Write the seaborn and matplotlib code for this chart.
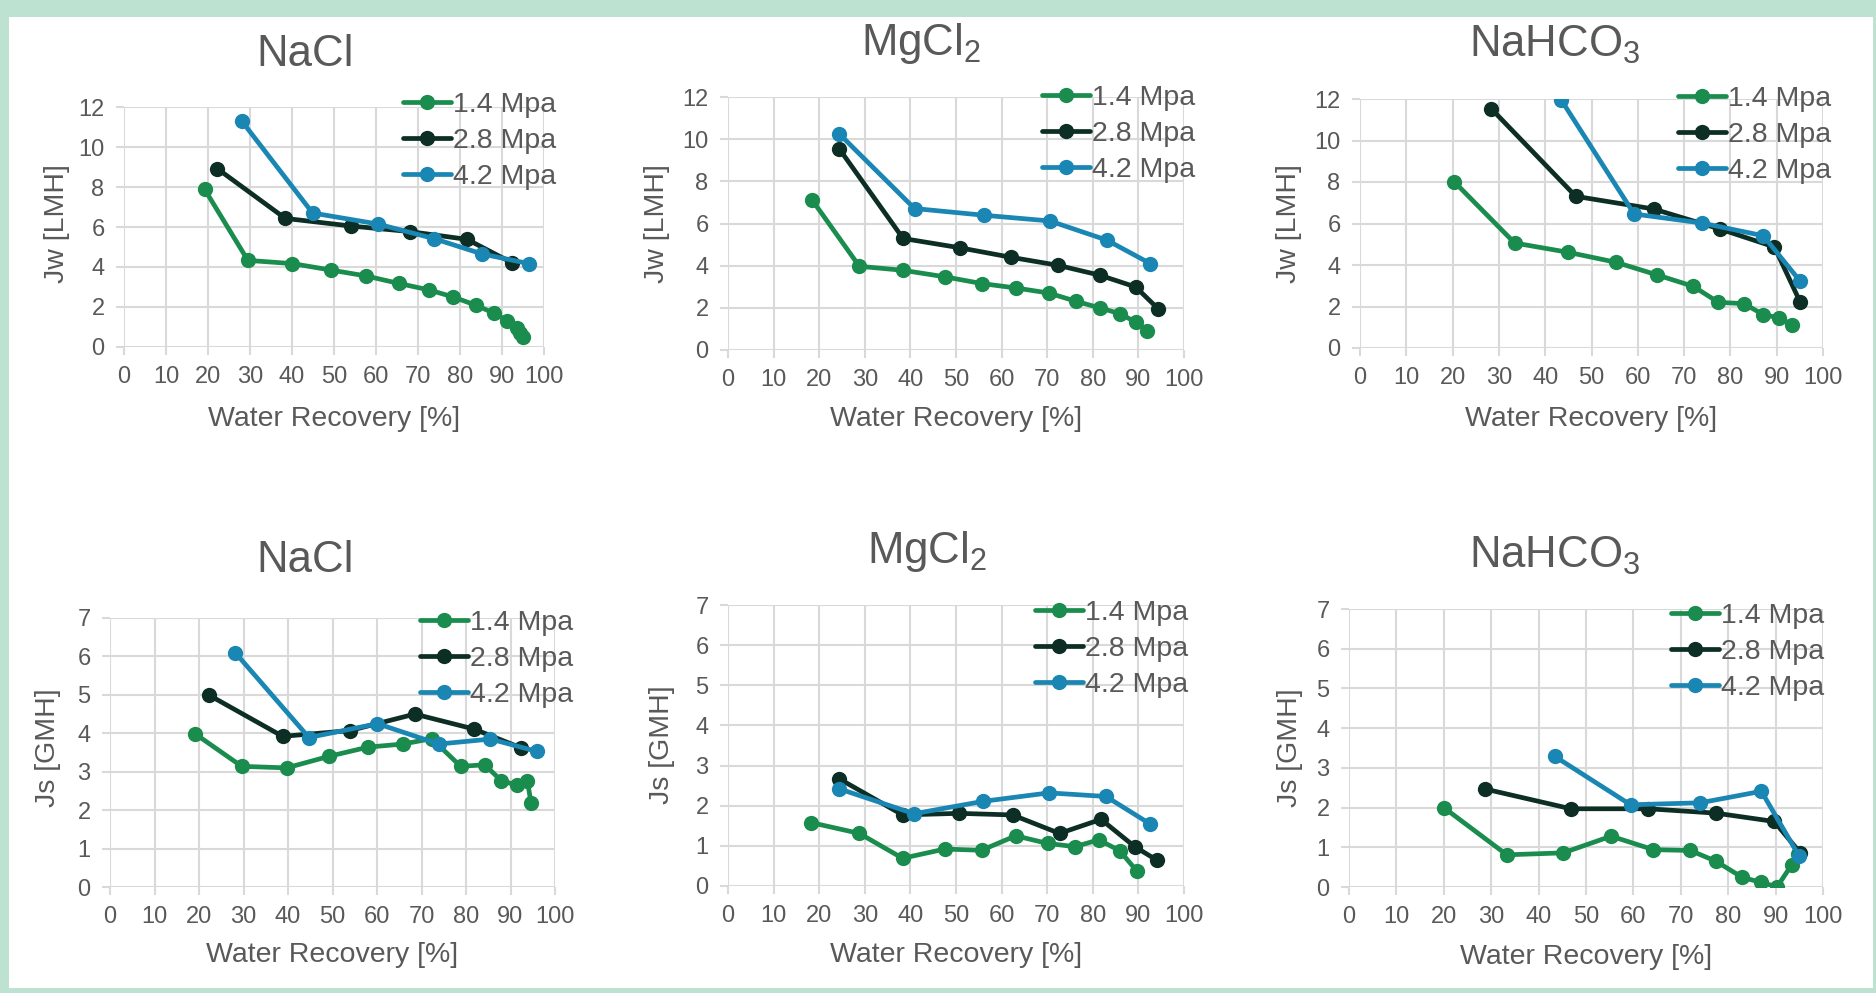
import numpy as np
import pandas as pd
import seaborn as sns
import matplotlib
matplotlib.use("Agg")
import matplotlib.pyplot as plt
from matplotlib.patches import Rectangle
from matplotlib import font_manager

# ---------------- data ----------------
pressures = ["1.4 Mpa", "2.8 Mpa", "4.2 Mpa"]

# NaCl Jw
nacl_jw_x14 = [19.2, 29.5, 40.1, 49.2, 57.7, 65.4, 72.7, 78.4, 83.9, 88.2, 91.3, 93.5, 94.4, 94.9]
nacl_jw_y14 = [7.88, 4.33, 4.17, 3.85, 3.55, 3.18, 2.85, 2.5, 2.08, 1.68, 1.3, 0.97, 0.72, 0.52]
nacl_jw_x28 = [22.2, 38.4, 54.0, 68.1, 81.7, 92.3]
nacl_jw_y28 = [8.92, 6.43, 6.05, 5.77, 5.38, 4.22]
nacl_jw_x42 = [28.1, 44.9, 60.4, 73.8, 85.3, 96.4]
nacl_jw_y42 = [11.28, 6.7, 6.15, 5.42, 4.65, 4.17]

# MgCl2 Jw
mgcl_jw_x14 = [18.5, 28.8, 38.4, 47.6, 55.7, 63.2, 70.4, 76.3, 81.5, 86.0, 89.4, 91.9]
mgcl_jw_y14 = [7.1, 3.97, 3.78, 3.47, 3.15, 2.94, 2.7, 2.31, 2.0, 1.72, 1.32, 0.92]
mgcl_jw_x28 = [24.4, 38.4, 50.8, 62.0, 72.3, 81.5, 89.4, 94.4]
mgcl_jw_y28 = [9.54, 5.29, 4.85, 4.4, 4.02, 3.55, 2.99, 1.94]
mgcl_jw_x42 = [24.4, 40.9, 56.2, 70.6, 83.1, 92.6]
mgcl_jw_y42 = [10.25, 6.71, 6.39, 6.12, 5.21, 4.1]

# NaHCO3 Jw
nahco_jw_x14 = [20.4, 33.4, 45.0, 55.3, 64.2, 72.0, 77.4, 82.9, 87.1, 90.5, 93.4]
nahco_jw_y14 = [8.0, 5.06, 4.61, 4.13, 3.52, 2.97, 2.2, 2.14, 1.61, 1.45, 1.12]
nahco_jw_x28 = [28.4, 46.6, 63.4, 77.8, 89.5, 95.1]
nahco_jw_y28 = [11.52, 7.31, 6.7, 5.73, 4.87, 2.2]
nahco_jw_x42 = [43.5, 59.2, 73.9, 87.1, 95.1]
nahco_jw_y42 = [11.94, 6.46, 6.02, 5.41, 3.21]

# NaCl Js
nacl_js_x14 = [19.2, 29.6, 39.7, 49.2, 58.0, 65.8, 72.3, 78.8, 84.2, 87.9, 91.4, 93.8, 94.6]
nacl_js_y14 = [3.98, 3.14, 3.1, 3.4, 3.64, 3.72, 3.86, 3.14, 3.18, 2.77, 2.65, 2.77, 2.19]
nacl_js_x28 = [22.3, 38.8, 53.9, 68.5, 81.8, 92.4]
nacl_js_y28 = [4.99, 3.92, 4.07, 4.5, 4.11, 3.62]
nacl_js_x42 = [28.2, 44.7, 60.1, 73.9, 85.5, 95.9]
nacl_js_y42 = [6.09, 3.89, 4.25, 3.72, 3.85, 3.53]

# MgCl2 Js
mgcl_js_x14 = [18.2, 28.8, 38.3, 47.5, 55.6, 63.1, 70.1, 76.1, 81.3, 85.9, 89.6]
mgcl_js_y14 = [1.58, 1.31, 0.69, 0.92, 0.89, 1.25, 1.06, 0.98, 1.15, 0.88, 0.38]
mgcl_js_x28 = [24.4, 38.3, 50.6, 62.4, 72.7, 81.8, 89.2, 94.1]
mgcl_js_y28 = [2.67, 1.77, 1.81, 1.77, 1.31, 1.66, 0.98, 0.64]
mgcl_js_x42 = [24.4, 40.8, 56.0, 70.4, 82.9, 92.5]
mgcl_js_y42 = [2.42, 1.8, 2.11, 2.32, 2.23, 1.55]

# NaHCO3 Js
nahco_js_x14 = [20.1, 33.3, 45.2, 55.3, 64.2, 72.0, 77.4, 83.0, 86.9, 90.3, 93.4, 94.8]
nahco_js_y14 = [1.99, 0.81, 0.86, 1.28, 0.94, 0.92, 0.65, 0.24, 0.12, 0.0, 0.56, 0.82]
nahco_js_x28 = [28.6, 46.8, 63.1, 77.4, 89.7, 95.2]
nahco_js_y28 = [2.47, 1.97, 1.97, 1.86, 1.65, 0.86]
nahco_js_x42 = [43.4, 59.4, 74.1, 87.0, 94.9]
nahco_js_y42 = [3.29, 2.07, 2.12, 2.41, 0.79]

titles = ["NaCl", "MgCl$_2$", "NaHCO$_3$", "NaCl", "MgCl$_2$", "NaHCO$_3$"]
ylabels = ["Jw [LMH]"] * 3 + ["Js [GMH]"] * 3
xlabel = "Water Recovery [%]"
x_ticks = list(range(0, 101, 10))
jw_ticks = list(range(0, 13, 2))
js_ticks = list(range(0, 8, 1))

colors = ["#1A8C4E", "#0C2E24", "#1A86B3"]

# ---------------- style ----------------
sns.set_theme(style="white")
plt.rcParams["font.family"] = ["Liberation Sans", "DejaVu Sans"]
plt.rcParams["mathtext.fontset"] = "custom"
plt.rcParams["mathtext.rm"] = "Liberation Sans"
plt.rcParams["mathtext.it"] = "Liberation Sans"
plt.rcParams["mathtext.default"] = "regular"
TXT = "#595959"
GRID = "#D9D9D9"

avail = {f.name for f in font_manager.fontManager.ttflist}
if "Liberation Sans Narrow" in avail:
    tick_font = dict(family="Liberation Sans Narrow", size=20)
else:
    tick_font = dict(family="Liberation Sans", size=17)
leg_font = dict(family="Liberation Sans", size=20.5)

W, H = 1876, 993
fig = plt.figure(figsize=(W / 100, H / 100), dpi=100)
fig.patch.set_facecolor("#BEE2D2")
fig.patches.append(Rectangle((9 / W, 1 - 988 / H), (1873 - 9) / W, (988 - 17) / H,
                             transform=fig.transFigure, facecolor="white",
                             edgecolor="none", zorder=-10))

# axes boxes in pixels: left, right, top, bottom
boxes = [
    (124, 544, 107, 347),
    (728, 1184, 97, 350),
    (1360, 1823, 99, 348),
    (110, 555, 618, 887),
    (728, 1184, 605, 886),
    (1349, 1823, 609, 887),
]
title_pos = [(305, 54), (921, 44), (1555, 45), (305, 560), (927, 552), (1555, 556)]
ylabel_pos = [(57, 224), (657, 224), (1289, 224), (48, 748), (662, 745), (1290, 748)]
xlabel_y = [419, 419, 419, 955, 955, 957]
legend_pos = [(403, 105), (1042, 98), (1678, 99), (420, 623), (1035, 613), (1671, 616)]

series = [
    [(nacl_jw_x14, nacl_jw_y14), (nacl_jw_x28, nacl_jw_y28), (nacl_jw_x42, nacl_jw_y42)],
    [(mgcl_jw_x14, mgcl_jw_y14), (mgcl_jw_x28, mgcl_jw_y28), (mgcl_jw_x42, mgcl_jw_y42)],
    [(nahco_jw_x14, nahco_jw_y14), (nahco_jw_x28, nahco_jw_y28), (nahco_jw_x42, nahco_jw_y42)],
    [(nacl_js_x14, nacl_js_y14), (nacl_js_x28, nacl_js_y28), (nacl_js_x42, nacl_js_y42)],
    [(mgcl_js_x14, mgcl_js_y14), (mgcl_js_x28, mgcl_js_y28), (mgcl_js_x42, mgcl_js_y42)],
    [(nahco_js_x14, nahco_js_y14), (nahco_js_x28, nahco_js_y28), (nahco_js_x42, nahco_js_y42)],
]

for i in range(6):
    l, r, t, b = boxes[i]
    ax = fig.add_axes([l / W, 1 - b / H, (r - l) / W, (b - t) / H])
    ax.set_facecolor("none")
    frames = []
    for p, (xs, ys) in zip(pressures, series[i]):
        frames.append(pd.DataFrame({"x": xs, "y": ys, "Pressure": p}))
    df = pd.concat(frames, ignore_index=True)
    sns.lineplot(data=df, x="x", y="y", hue="Pressure", hue_order=pressures,
                 palette=colors, marker="o", markersize=11, markeredgewidth=0,
                 linewidth=3.4, sort=False, estimator=None, units="Pressure",
                 ax=ax, zorder=3)
    ax.set_xlim(0, 100)
    ax.set_xticks(x_ticks)
    if i < 3:
        ax.set_ylim(0, 12)
        ax.set_yticks(jw_ticks)
    else:
        ax.set_ylim(0, 7)
        ax.set_yticks(js_ticks)
    ax.grid(True, color=GRID, linewidth=1.5, zorder=0)
    ax.set_axisbelow(True)
    for s in ax.spines.values():
        s.set_visible(False)
    ax.tick_params(axis="both", which="both", direction="out", length=6, width=1.5,
                   color=GRID, labelcolor=TXT, bottom=True, left=True)
    ax.tick_params(axis="x", pad=8)
    ax.tick_params(axis="y", pad=8)
    for lbl in ax.get_xticklabels() + ax.get_yticklabels():
        lbl.set_fontfamily(tick_font["family"])
        lbl.set_fontsize(tick_font["size"])
    ax.set_xlabel("")
    ax.set_ylabel("")
    h, lab = ax.get_legend_handles_labels()
    lx, ly = legend_pos[i]
    ax.legend(h, lab, loc="center left",
              bbox_to_anchor=(lx / W, 1 - (ly + 36) / H),
              bbox_transform=fig.transFigure, frameon=False,
              prop=leg_font, handlelength=1.7, handletextpad=0.05,
              borderpad=0, borderaxespad=0, labelspacing=0.34,
              labelcolor=TXT)
    fig.text(title_pos[i][0] / W, 1 - title_pos[i][1] / H, titles[i],
             ha="center", va="center", fontsize=31.5, color=TXT)
    fig.text(ylabel_pos[i][0] / W, 1 - ylabel_pos[i][1] / H, ylabels[i],
             ha="center", va="center", rotation=90, fontsize=20.5, color=TXT)
    fig.text(((l + r) / 2) / W, 1 - xlabel_y[i] / H, xlabel,
             ha="center", va="center", fontsize=20.5, color=TXT)

fig.savefig("out.png", dpi=100, facecolor=fig.get_facecolor())
